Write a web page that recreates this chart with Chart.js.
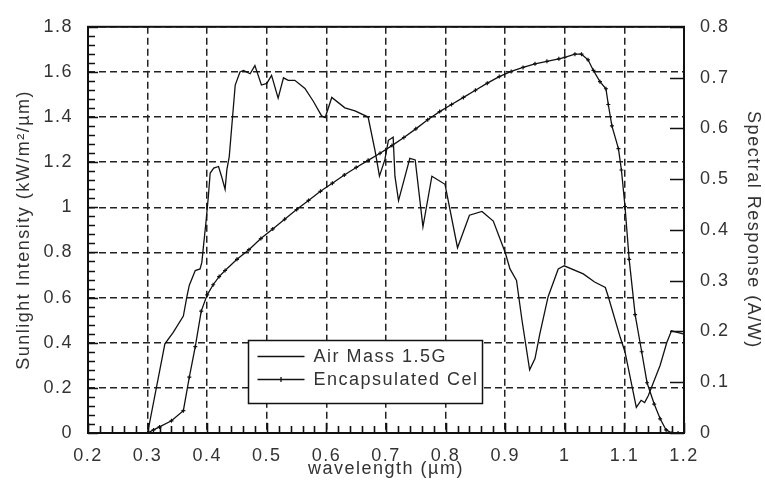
<!DOCTYPE html>
<html lang="en">
<head>
    <meta charset="UTF-8">
    <title>Sunlight Intensity and Spectral Response</title>
    <style>
        html, body { margin: 0; padding: 0; background: #fff; }
        #chart-wrap { width: 765px; height: 489px; }
    </style>
</head>
<body>
    <div id="chart-wrap">
        <canvas id="spectrum-chart" width="765" height="489"></canvas>
    </div>

    <script src="https://cdn.jsdelivr.net/npm/chart.js"></script>
    <script>
        // Air Mass 1.5G solar spectrum (kW/m²/µm)
        const amWavelength = [0.300, 0.329, 0.343, 0.360, 0.366, 0.370, 0.380, 0.388, 0.391, 0.394, 0.398, 0.402, 0.405, 0.411, 0.419, 0.424, 0.430, 0.433, 0.437, 0.447, 0.455, 0.461, 0.472, 0.480, 0.491, 0.500, 0.508, 0.519, 0.528, 0.536, 0.547, 0.564, 0.578, 0.592, 0.598, 0.609, 0.631, 0.648, 0.670, 0.682, 0.689, 0.698, 0.704, 0.712, 0.715, 0.721, 0.740, 0.749, 0.762, 0.777, 0.799, 0.820, 0.840, 0.861, 0.880, 0.900, 0.908, 0.919, 0.928, 0.941, 0.950, 0.958, 0.972, 0.989, 0.999, 1.031, 1.050, 1.068, 1.073, 1.093, 1.101, 1.120, 1.128, 1.134, 1.140, 1.160, 1.171, 1.179, 1.200];
        const amIntensity = [0.000, 0.395, 0.446, 0.518, 0.605, 0.655, 0.720, 0.727, 0.756, 0.835, 0.936, 1.050, 1.152, 1.174, 1.181, 1.138, 1.080, 1.167, 1.225, 1.542, 1.600, 1.607, 1.592, 1.628, 1.542, 1.549, 1.585, 1.484, 1.574, 1.563, 1.563, 1.527, 1.470, 1.405, 1.398, 1.487, 1.441, 1.427, 1.400, 1.246, 1.138, 1.210, 1.297, 1.311, 1.138, 1.030, 1.217, 1.210, 0.914, 1.138, 1.102, 0.821, 0.965, 0.982, 0.939, 0.800, 0.727, 0.676, 0.503, 0.280, 0.330, 0.438, 0.604, 0.727, 0.741, 0.705, 0.669, 0.645, 0.604, 0.424, 0.359, 0.114, 0.145, 0.135, 0.165, 0.300, 0.400, 0.453, 0.438];

        // Encapsulated cell spectral response (A/W)
        const cellWavelength = [0.30, 0.31, 0.32, 0.34, 0.36, 0.37, 0.38, 0.39, 0.40, 0.41, 0.42, 0.43, 0.45, 0.47, 0.49, 0.51, 0.53, 0.55, 0.57, 0.59, 0.61, 0.63, 0.65, 0.67, 0.69, 0.71, 0.73, 0.75, 0.77, 0.79, 0.81, 0.83, 0.85, 0.87, 0.89, 0.91, 0.93, 0.95, 0.97, 0.99, 1.000, 1.017, 1.028, 1.039, 1.048, 1.059, 1.069, 1.073, 1.079, 1.090, 1.095, 1.101, 1.108, 1.118, 1.129, 1.138, 1.150, 1.160, 1.170, 1.180, 1.190, 1.200];
        const cellResponse = [0.000, 0.006, 0.012, 0.024, 0.044, 0.110, 0.170, 0.240, 0.272, 0.292, 0.308, 0.320, 0.342, 0.361, 0.383, 0.402, 0.421, 0.440, 0.458, 0.476, 0.492, 0.508, 0.523, 0.537, 0.551, 0.566, 0.582, 0.599, 0.617, 0.633, 0.647, 0.661, 0.675, 0.689, 0.702, 0.712, 0.720, 0.727, 0.732, 0.737, 0.740, 0.746, 0.746, 0.735, 0.714, 0.692, 0.678, 0.647, 0.605, 0.560, 0.518, 0.446, 0.342, 0.233, 0.160, 0.099, 0.057, 0.028, 0.006, 0.000, 0.000, 0.000];

        const seriesLabels = ['Air Mass 1.5G', 'Encapsulated Cel'];

        const FONT = { family: '"Liberation Sans", Arial, sans-serif', size: 18 };
        const INK = '#111';
        const TEXT = '#333';
        const SPACING = '1.5px';

        const pairs = (xs, ys) => xs.map((x, i) => ({ x: x, y: ys[i] }));
        const fmt = v => String(+v.toFixed(2));

        // wide-set lettering for every label the chart draws
        const spacingPlugin = {
            id: 'spacing',
            beforeUpdate(chart) { chart.ctx.letterSpacing = SPACING; },
            beforeDraw(chart) { chart.ctx.letterSpacing = SPACING; }
        };

        // frame, inward tick marks and the boxed legend
        const framePlugin = {
            id: 'frame',
            afterDatasetsDraw(chart) {
                const ctx = chart.ctx;
                const area = chart.chartArea;
                const xs = chart.scales.x, ys = chart.scales.y, y1 = chart.scales.y1;
                ctx.save();
                ctx.strokeStyle = INK;
                ctx.lineWidth = 1.6;

                ctx.beginPath();
                // minor + major ticks on the wavelength axis
                for (let i = 0; i <= 50; i++) {
                    const px = Math.round(xs.getPixelForValue(0.2 + i * 0.02)) + 0.5;
                    const len = i % 5 === 0 ? 10 : 7;
                    ctx.moveTo(px, area.bottom);
                    ctx.lineTo(px, area.bottom - len);
                }
                // minor + major ticks on the intensity axis
                for (let i = 0; i <= 45; i++) {
                    const py = Math.round(ys.getPixelForValue(i * 0.04)) + 0.5;
                    const len = i % 5 === 0 ? 10 : 7;
                    ctx.moveTo(area.left, py);
                    ctx.lineTo(area.left + len, py);
                }
                // major ticks on the response axis
                for (let i = 0; i <= 8; i++) {
                    const py = Math.round(y1.getPixelForValue(i * 0.1)) + 0.5;
                    ctx.moveTo(area.right, py);
                    ctx.lineTo(area.right - 14, py);
                }
                ctx.stroke();

                ctx.lineWidth = 2;
                ctx.strokeRect(area.left, area.top, area.right - area.left, area.bottom - area.top);

                // legend box, sized to its labels
                ctx.font = FONT.size + 'px ' + FONT.family;
                ctx.letterSpacing = SPACING;
                const textW = Math.max(...chart.data.datasets.map(ds => ctx.measureText(ds.label).width));
                const lx = Math.round(xs.getPixelForValue(0.4685)) + 0.5;
                const ly = Math.round(ys.getPixelForValue(0.411)) + 0.5;
                const lw = Math.round(65 + textW + 4), lh = 63;
                ctx.fillStyle = '#fff';
                ctx.fillRect(lx, ly, lw, lh);
                ctx.lineWidth = 1.5;
                ctx.strokeRect(lx, ly, lw, lh);
                ctx.textBaseline = 'middle';
                chart.data.datasets.forEach((ds, i) => {
                    const rowY = Math.round(ly + 15 + i * 23.5) + 0.5;
                    ctx.strokeStyle = INK;
                    ctx.lineWidth = 1.3;
                    ctx.beginPath();
                    ctx.moveTo(lx + 9, rowY);
                    ctx.lineTo(lx + 56, rowY);
                    ctx.stroke();
                    if (ds.pointRadius > 0) {
                        ctx.beginPath();
                        ctx.moveTo(lx + 32.5, rowY - 2.5);
                        ctx.lineTo(lx + 32.5, rowY + 2.5);
                        ctx.stroke();
                    }
                    ctx.fillStyle = TEXT;
                    ctx.fillText(ds.label, lx + 65, rowY + 1);
                });
                ctx.restore();
            }
        };

        const ctx = document.getElementById('spectrum-chart').getContext('2d');
        new Chart(ctx, {
            type: 'line',
            data: {
                datasets: [{
                    label: seriesLabels[0],
                    data: pairs(amWavelength, amIntensity),
                    yAxisID: 'y',
                    borderColor: INK,
                    borderWidth: 1.3,
                    pointRadius: 0,
                    tension: 0
                }, {
                    label: seriesLabels[1],
                    data: pairs(cellWavelength, cellResponse),
                    yAxisID: 'y1',
                    borderColor: INK,
                    backgroundColor: INK,
                    borderWidth: 1.3,
                    pointStyle: 'cross',
                    pointRadius: 2,
                    pointBorderWidth: 1.2,
                    tension: 0
                }]
            },
            options: {
                responsive: false,
                animation: false,
                devicePixelRatio: 1,
                layout: { padding: { top: 17, left: 0, right: 0, bottom: 0 } },
                plugins: {
                    legend: { display: false },
                    tooltip: { enabled: false }
                },
                scales: {
                    x: {
                        type: 'linear',
                        min: 0.2,
                        max: 1.2,
                        afterFit: s => { s.height = 56; },
                        ticks: { stepSize: 0.1, font: FONT, color: TEXT, padding: 12, maxRotation: 0, callback: fmt },
                        grid: { color: '#222', lineWidth: 1.5, drawTicks: false },
                        border: { display: false, dash: [7, 4] },
                        title: { display: true, text: 'wavelength (µm)', font: FONT, color: TEXT, padding: { top: 0, bottom: 9 } }
                    },
                    y: {
                        type: 'linear',
                        position: 'left',
                        min: 0,
                        max: 1.8,
                        afterFit: s => { s.width = 88; },
                        ticks: { stepSize: 0.2, font: FONT, color: TEXT, padding: 15, callback: fmt },
                        grid: { color: '#222', lineWidth: 1.5, drawTicks: false },
                        border: { display: false, dash: [7, 4] },
                        title: { display: true, text: 'Sunlight Intensity (kW/m²/µm)', font: FONT, color: TEXT, padding: { top: 13, bottom: 0 } }
                    },
                    y1: {
                        type: 'linear',
                        position: 'right',
                        min: 0,
                        max: 0.8,
                        afterFit: s => { s.width = 81; },
                        ticks: { stepSize: 0.1, font: FONT, color: TEXT, padding: 16, callback: fmt },
                        grid: { display: false, drawTicks: false },
                        border: { display: false },
                        title: { display: true, text: 'Spectral Response (A/W)', font: FONT, color: TEXT, padding: { top: 1, bottom: 0 } }
                    }
                }
            },
            plugins: [spacingPlugin, framePlugin]
        });
    </script>
</body>
</html>
